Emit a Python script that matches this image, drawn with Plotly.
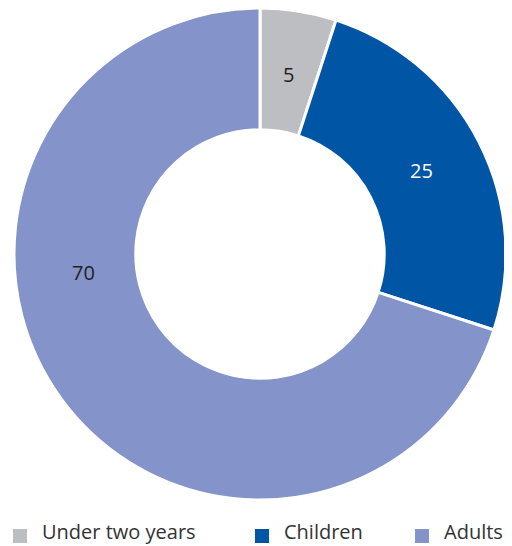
import math
import plotly.graph_objects as go

categories = ["Under two years", "Children", "Adults"]
values = [5, 25, 70]
colors = ["#bdbec2", "#0055a5", "#8493c9"]
text_colors = ["#231f20", "#ffffff", "#231f20"]

# the page body has an 8px margin, so the figure is drawn 8px in from the window corner
OFF = 8
W, H = 512 - OFF, 546 - OFF
FONT = "Open Sans"


def px_to_paper(px, py):
    """window pixel -> paper fraction"""
    return (px - OFF) / W, 1 - (py - OFF) / H


fig = go.Figure()
dx0, dy_bottom = px_to_paper(14, 500)
dx1, _ = px_to_paper(506, 0)
fig.add_trace(go.Pie(
    labels=categories,
    values=values,
    hole=0.505,
    sort=False,
    direction="clockwise",
    rotation=0,
    marker=dict(colors=colors, line=dict(color="white", width=3)),
    textinfo="none",
    domain=dict(x=[dx0, dx1], y=[dy_bottom, 1]),
    hoverinfo="label+value",
    showlegend=False,
))

# value labels, placed around the ring from the cumulative shares
cx, cy, r_mid = 260, 253, 181
total = sum(values)
cum = 0
for i, v in enumerate(values):
    mid = (cum + v / 2) / total * 2 * math.pi
    cum += v
    if i == 2:
        px, py = 83, 272  # large slice label sits at the left side
    else:
        px = cx + r_mid * math.sin(mid)
        py = cy - r_mid * math.cos(mid)
    ax, ay = px_to_paper(px, py)
    fig.add_annotation(
        x=ax, y=ay, xref="paper", yref="paper",
        xanchor="center", yanchor="middle",
        text=str(v), showarrow=False,
        font=dict(size=20, color=text_colors[i], family=FONT),
    )

# legend row at the bottom: colour swatch + label for each category
legend_swatch_x = [13, 255, 415]
for i, cat in enumerate(categories):
    x0, y0 = px_to_paper(legend_swatch_x[i], 529)
    x1, y1 = px_to_paper(legend_swatch_x[i] + 14, 543)
    fig.add_shape(type="rect", xref="paper", yref="paper",
                  x0=x0, x1=x1, y0=y1, y1=y0,
                  fillcolor=colors[i], line=dict(width=0))
    tx, ty = px_to_paper(legend_swatch_x[i] + 27, 531)
    fig.add_annotation(
        x=tx, y=ty, xref="paper", yref="paper",
        xanchor="left", yanchor="middle",
        text=cat, showarrow=False,
        font=dict(size=20, color="#333333", family=FONT),
    )

fig.update_layout(
    width=W, height=H,
    margin=dict(l=0, r=0, t=0, b=0),
    paper_bgcolor="white",
    plot_bgcolor="white",
    showlegend=False,
)

fig.write_html("out.html")
